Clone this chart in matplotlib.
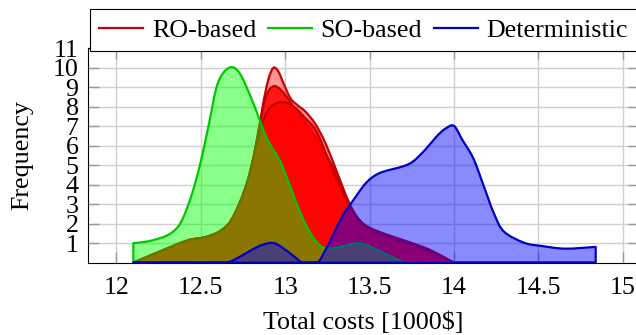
import numpy as np
import matplotlib
matplotlib.use("Agg")
import matplotlib.pyplot as plt
from matplotlib.path import Path
from matplotlib.patches import PathPatch
from matplotlib.lines import Line2D

# ---------------- data ----------------
ro_a_x = [12.10, 12.25, 12.42, 12.52, 12.60, 12.66, 12.70, 12.75, 12.79, 12.83, 12.87, 12.90, 12.93,
          12.96, 12.99, 13.03, 13.07, 13.12, 13.18, 13.24, 13.30, 13.38, 13.44, 13.50, 13.60, 13.72,
          13.86, 14.00]
ro_a_y = [0.00, 0.55, 1.14, 1.30, 1.55, 1.95, 2.50, 3.50, 4.60, 6.20, 8.20, 9.40, 10.00,
          9.80, 9.20, 8.45, 8.10, 7.75, 7.10, 6.10, 4.80, 3.05, 2.20, 1.80, 1.45, 1.10,
          0.65, 0.00]

ro_b_x = [12.10, 12.25, 12.42, 12.52, 12.60, 12.66, 12.70, 12.75, 12.79, 12.83, 12.87, 12.90, 12.935,
          12.97, 13.01, 13.05, 13.10, 13.20, 13.30, 13.38, 13.44, 13.50, 13.60, 13.72, 13.86, 14.00]
ro_b_y = [0.00, 0.55, 1.14, 1.30, 1.55, 1.95, 2.50, 3.50, 4.60, 6.20, 8.00, 8.80, 9.06,
          8.90, 8.50, 8.00, 7.40, 6.20, 4.60, 3.00, 2.15, 1.75, 1.40, 1.05, 0.60, 0.00]

ro_c_x = [12.10, 12.25, 12.42, 12.52, 12.60, 12.66, 12.70, 12.75, 12.79, 12.83, 12.87, 12.91, 12.96,
          13.01, 13.06, 13.11, 13.185, 13.26, 13.32, 13.38, 13.44, 13.50, 13.60, 13.72, 13.86, 14.00]
ro_c_y = [0.00, 0.55, 1.14, 1.30, 1.55, 1.95, 2.50, 3.50, 4.60, 6.00, 7.30, 7.95, 8.22,
          8.20, 7.95, 7.50, 6.75, 5.20, 4.00, 2.95, 2.10, 1.70, 1.35, 1.00, 0.55, 0.00]

so_x = [12.10, 12.20, 12.30, 12.36, 12.40, 12.45, 12.50, 12.55, 12.60, 12.667, 12.73, 12.81, 12.89,
        12.97, 13.03, 13.09, 13.15, 13.21, 13.26, 13.33, 13.44, 13.54, 13.64, 13.72, 13.80, 14.84]
so_y = [1.00, 1.12, 1.40, 1.80, 2.40, 3.60, 5.20, 7.20, 9.20, 10.00, 9.72, 8.20, 6.40,
        5.20, 3.90, 2.55, 1.50, 0.85, 0.74, 0.82, 1.00, 0.68, 0.26, 0.00, 0.00, 0.00]

det_x = [12.10, 12.55, 12.65, 12.72, 12.79, 12.86, 12.92, 12.97, 13.05, 13.105, 13.19, 13.25, 13.34,
         13.40, 13.48, 13.56, 13.70, 13.76, 13.83, 13.90, 13.95, 14.00, 14.05, 14.115, 14.176,
         14.236, 14.296, 14.417, 14.518, 14.66, 14.84]
det_y = [0.00, 0.00, 0.00, 0.25, 0.60, 0.90, 1.02, 0.85, 0.34, 0.00, 0.00, 0.85, 2.39,
         3.16, 4.10, 4.60, 4.95, 5.21, 5.80, 6.50, 6.88, 7.02, 6.30, 5.35, 3.95,
         2.55, 1.60, 1.02, 0.86, 0.72, 0.81]

labels = ["RO-based", "SO-based", "Deterministic"]
x_ticks = [12, 12.5, 13, 13.5, 14, 14.5, 15]
x_tick_labels = ["12", "12.5", "13", "13.5", "14", "14.5", "15"]
y_ticks = list(range(1, 12))
y_tick_labels = [str(v) for v in y_ticks]


# ---------------- helpers ----------------
def smooth_area_path(x, y):
    """Closed area under a Catmull-Rom (TikZ 'smooth'-like) curve, as Bezier path."""
    pts = np.column_stack([np.asarray(x, float), np.asarray(y, float)])
    n = len(pts)
    verts = [(pts[0, 0], 0.0), tuple(pts[0])]
    codes = [Path.MOVETO, Path.LINETO]
    for i in range(n - 1):
        p0 = pts[i - 1] if i > 0 else pts[i]
        p1 = pts[i]
        p2 = pts[i + 1]
        p3 = pts[i + 2] if i + 2 < n else pts[i + 1]
        c1 = p1 + (p2 - p0) / 6.0
        c2 = p2 - (p3 - p1) / 6.0
        c1[1] = max(c1[1], 0.0)
        c2[1] = max(c2[1], 0.0)
        verts += [tuple(c1), tuple(c2), tuple(p2)]
        codes += [Path.CURVE4] * 3
    verts += [(pts[-1, 0], 0.0), (pts[0, 0], 0.0)]
    codes += [Path.LINETO, Path.CLOSEPOLY]
    return Path(verts, codes)


# ---------------- figure ----------------
plt.rcParams['font.family'] = ['Liberation Serif', 'DejaVu Serif']
FS = 18.7

fig = plt.figure(figsize=(6.36, 3.35), dpi=100)
ax = fig.add_axes([88.3 / 636, (335 - 262.7) / 335, (638.7 - 88.3) / 636, (262.7 - 48.3) / 335])

RED_L, GREEN_L, BLUE_L = '#c80000', '#00c800', '#0000c8'

series = [
    (ro_a_x, ro_a_y, (1, 0, 0, 0.42), RED_L),
    (ro_b_x, ro_b_y, (1, 0, 0, 0.85), RED_L),
    (ro_c_x, ro_c_y, (1, 0, 0, 0.85), RED_L),
    (so_x, so_y, (0, 1, 0, 0.46), GREEN_L),
    (det_x, det_y, (0, 0, 1, 0.46), BLUE_L),
]
for i, (xs, ys, fc, ec) in enumerate(series):
    p = PathPatch(smooth_area_path(xs, ys), facecolor=fc, edgecolor=ec, lw=1.6,
                  zorder=3 + i, clip_on=False, joinstyle='round')
    ax.add_patch(p)

ax.set_xlim(11.833, 15.095)
ax.set_ylim(0, 11)
ax.set_xticks(x_ticks)
ax.set_xticklabels(x_tick_labels)
ax.set_yticks(y_ticks)
ax.set_yticklabels(y_tick_labels)
ax.grid(True, color='#d0d0d0', lw=1.0, zorder=0)
ax.set_axisbelow(True)
ax.tick_params(direction='in', length=8, width=1.0, color='#9a9a9a', top=True, right=True,
               labelsize=FS)
ax.tick_params(axis='x', pad=10)
ax.tick_params(axis='y', pad=7)
for s in ax.spines.values():
    s.set_color('black')
    s.set_linewidth(0.8)
    s.set_zorder(10)

ax.set_xlabel("Total costs [1000$]", fontsize=FS, labelpad=9)
ax.set_ylabel("Frequency", fontsize=FS, labelpad=14)

handles = [Line2D([], [], color=RED_L, lw=1.6),
           Line2D([], [], color=GREEN_L, lw=1.6),
           Line2D([], [], color=BLUE_L, lw=1.6)]
leg = fig.legend(handles, labels, loc='lower center', bbox_to_anchor=(363.5 / 636, (335 - 51) / 335),
                 ncol=3, fontsize=FS, frameon=True, fancybox=False, edgecolor='black',
                 framealpha=1.0, borderpad=0.36, handlelength=1.7, handletextpad=0.33,
                 columnspacing=0.45, borderaxespad=0.0)
leg.get_frame().set_linewidth(0.8)

fig.savefig("out.png", dpi=100)
